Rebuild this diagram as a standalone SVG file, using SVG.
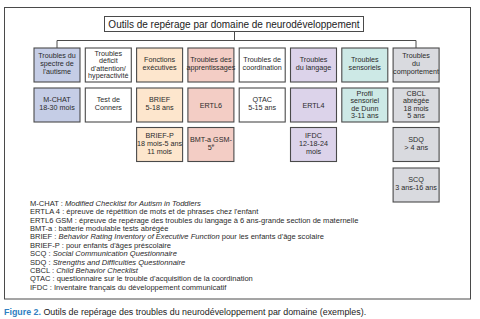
<svg xmlns="http://www.w3.org/2000/svg" width="480" height="319" viewBox="0 0 480 319">
<style>
.b{stroke:#4a4a4a;stroke-width:1.1}
.t{font-family:"Liberation Sans",Arial,sans-serif;font-size:7.2px;fill:#2a2a2a;text-anchor:middle}
.lg{font-family:"Liberation Sans",Arial,sans-serif;font-size:7.55px;fill:#2a2a2a}
.c{fill:none;stroke:#4a4a4a;stroke-width:1}
.blue{fill:#c5cde6}.wh{fill:#ffffff}.pe{fill:#fde6cd}.pk{fill:#f3cdc5}.pu{fill:#dcd3ea}.te{fill:#cde9e6}.gr{fill:#d9dadf}
</style>
<rect x="4.5" y="7.5" width="466" height="291.5" fill="#fff" stroke="#4a4a4a" stroke-width="1"/>
<g id="connectors">
<path class="c" d="M234.5 31V40.5M57 48V40.5H416V48"/>
</g>
<g id="title">
<rect x="104.5" y="16.5" width="259" height="15" fill="#fff" stroke="#4a4a4a" stroke-width="1"/>
<text x="234" y="27.5" font-family="Liberation Sans,Arial,sans-serif" font-size="10" fill="#222" text-anchor="middle">Outils de repérage par domaine de neurodéveloppement</text>
</g>
<g id="n1"><rect class="b blue" x="34" y="48" width="46" height="34"/><text class="t" x="57"><tspan x="57" y="58">Troubles du</tspan><tspan x="57" y="66">spectre de</tspan><tspan x="57" y="74">l'autisme</tspan></text></g>
<g id="n2"><rect class="b wh" x="85.3" y="48" width="46" height="34"/><text class="t"><tspan x="108.3" y="55.5">Troubles</tspan><tspan x="108.3" y="63">déficit</tspan><tspan x="108.3" y="70.5">d'attention/</tspan><tspan x="108.3" y="78">hyperactivité</tspan></text></g>
<g id="n3"><rect class="b pe" x="136.6" y="48" width="46" height="34"/><text class="t"><tspan x="159.6" y="62">Fonctions</tspan><tspan x="159.6" y="70">exécutives</tspan></text></g>
<g id="n4"><rect class="b pk" x="187.9" y="48" width="46" height="34"/><text class="t"><tspan x="210.9" y="62">Troubles des</tspan><tspan x="210.9" y="70">apprentissages</tspan></text></g>
<g id="n5"><rect class="b wh" x="239.2" y="48" width="46" height="34"/><text class="t"><tspan x="262.2" y="62">Troubles de</tspan><tspan x="262.2" y="70">coordination</tspan></text></g>
<g id="n6"><rect class="b pu" x="290.5" y="48" width="46" height="34"/><text class="t"><tspan x="313.5" y="62">Troubles</tspan><tspan x="313.5" y="70">du langage</tspan></text></g>
<g id="n7"><rect class="b te" x="341.8" y="48" width="46" height="34"/><text class="t"><tspan x="364.8" y="62">Troubles</tspan><tspan x="364.8" y="70">sensoriels</tspan></text></g>
<g id="n8"><rect class="b gr" x="393.1" y="48" width="46" height="34"/><text class="t"><tspan x="416.1" y="58">Troubles</tspan><tspan x="416.1" y="66">du</tspan><tspan x="416.1" y="74">comportement</tspan></text></g>
<g id="n9"><rect class="b blue" x="34" y="88" width="46" height="34"/><text class="t"><tspan x="57" y="102">M-CHAT</tspan><tspan x="57" y="110">18-30 mois</tspan></text></g>
<g id="n10"><rect class="b wh" x="85.3" y="88" width="46" height="34"/><text class="t"><tspan x="108.3" y="102">Test de</tspan><tspan x="108.3" y="110">Conners</tspan></text></g>
<g id="n11"><rect class="b pe" x="136.6" y="88" width="46" height="34"/><text class="t"><tspan x="159.6" y="102">BRIEF</tspan><tspan x="159.6" y="110">5-18 ans</tspan></text></g>
<g id="n12"><rect class="b pk" x="187.9" y="88" width="46" height="34"/><text class="t" x="210.9" y="107.5">ERTL6</text></g>
<g id="n13"><rect class="b wh" x="239.2" y="88" width="46" height="34"/><text class="t"><tspan x="262.2" y="102">QTAC</tspan><tspan x="262.2" y="110">5-15 ans</tspan></text></g>
<g id="n14"><rect class="b pu" x="290.5" y="88" width="46" height="34"/><text class="t" x="313.5" y="107.5">ERTL4</text></g>
<g id="n15"><rect class="b te" x="341.8" y="88" width="46" height="34"/><text class="t"><tspan x="364.8" y="95.5">Profil</tspan><tspan x="364.8" y="103">sensoriel</tspan><tspan x="364.8" y="110.5">de Dunn</tspan><tspan x="364.8" y="118">3-11 ans</tspan></text></g>
<g id="n16"><rect class="b gr" x="393.1" y="88" width="46" height="34"/><text class="t"><tspan x="416.1" y="95.5">CBCL</tspan><tspan x="416.1" y="103">abrégée</tspan><tspan x="416.1" y="110.5">18 mois</tspan><tspan x="416.1" y="118">5 ans</tspan></text></g>
<g id="n17"><rect class="b pe" x="136.6" y="127.5" width="46" height="34"/><text class="t"><tspan x="159.6" y="137.5">BRIEF-P</tspan><tspan x="159.6" y="145.5">18 mois-5 ans</tspan><tspan x="159.6" y="153.5">11 mois</tspan></text></g>
<g id="n18"><rect class="b pk" x="187.9" y="127.5" width="46" height="34"/><text class="t"><tspan x="210.9" y="141.5">BMT-a GSM-</tspan><tspan x="210.9" y="149.5">5<tspan font-size="4.5" dy="-2.5">e</tspan></tspan></text></g>
<g id="n19"><rect class="b pu" x="290.5" y="127.5" width="46" height="34"/><text class="t"><tspan x="313.5" y="137.5">IFDC</tspan><tspan x="313.5" y="145.5">12-18-24</tspan><tspan x="313.5" y="153.5">mois</tspan></text></g>
<g id="n20"><rect class="b gr" x="393.1" y="127.5" width="46" height="34"/><text class="t"><tspan x="416.1" y="141.5">SDQ</tspan><tspan x="416.1" y="149.5">&gt; 4 ans</tspan></text></g>
<g id="n21"><rect class="b gr" x="393.1" y="168" width="46" height="34"/><text class="t"><tspan x="416.1" y="182">SCQ</tspan><tspan x="416.1" y="190">3 ans-16 ans</tspan></text></g>
<g id="legend">
<text class="lg" x="30" y="205.8">M-CHAT : <tspan font-style="italic">Modified Checklist for Autism in Toddlers</tspan></text>
<text class="lg" x="30" y="214.2">ERTLA 4 : épreuve de répétition de mots et de phrases chez l'enfant</text>
<text class="lg" x="30" y="222.6">ERTL6 GSM : épreuve de repérage des troubles du langage à 6 ans-grande section de maternelle</text>
<text class="lg" x="30" y="231">BMT-a : batterie modulable tests abrégée</text>
<text class="lg" x="30" y="239.4">BRIEF : <tspan font-style="italic">Behavior Rating Inventory of Executive Function</tspan> pour les enfants d'âge scolaire</text>
<text class="lg" x="30" y="247.8">BRIEF-P : pour enfants d'âges préscolaire</text>
<text class="lg" x="30" y="256.2">SCQ : <tspan font-style="italic">Social Communication Questionnaire</tspan></text>
<text class="lg" x="30" y="264.6">SDQ : <tspan font-style="italic">Strengths and Difficulties Questionnaire</tspan></text>
<text class="lg" x="30" y="273">CBCL : <tspan font-style="italic">Child Behavior Checklist</tspan></text>
<text class="lg" x="30" y="281.4">QTAC : questionnaire sur le trouble d'acquisition de la coordination</text>
<text class="lg" x="30" y="289.8">IFDC : Inventaire français du développement communicatif</text>
</g>
<text x="4" y="315" font-family="Liberation Sans,Arial,sans-serif" font-size="8.9" fill="#222"><tspan fill="#2f7fc2" font-weight="bold">Figure 2.</tspan> Outils de repérage des troubles du neurodéveloppement par domaine (exemples).</text>
</svg>
